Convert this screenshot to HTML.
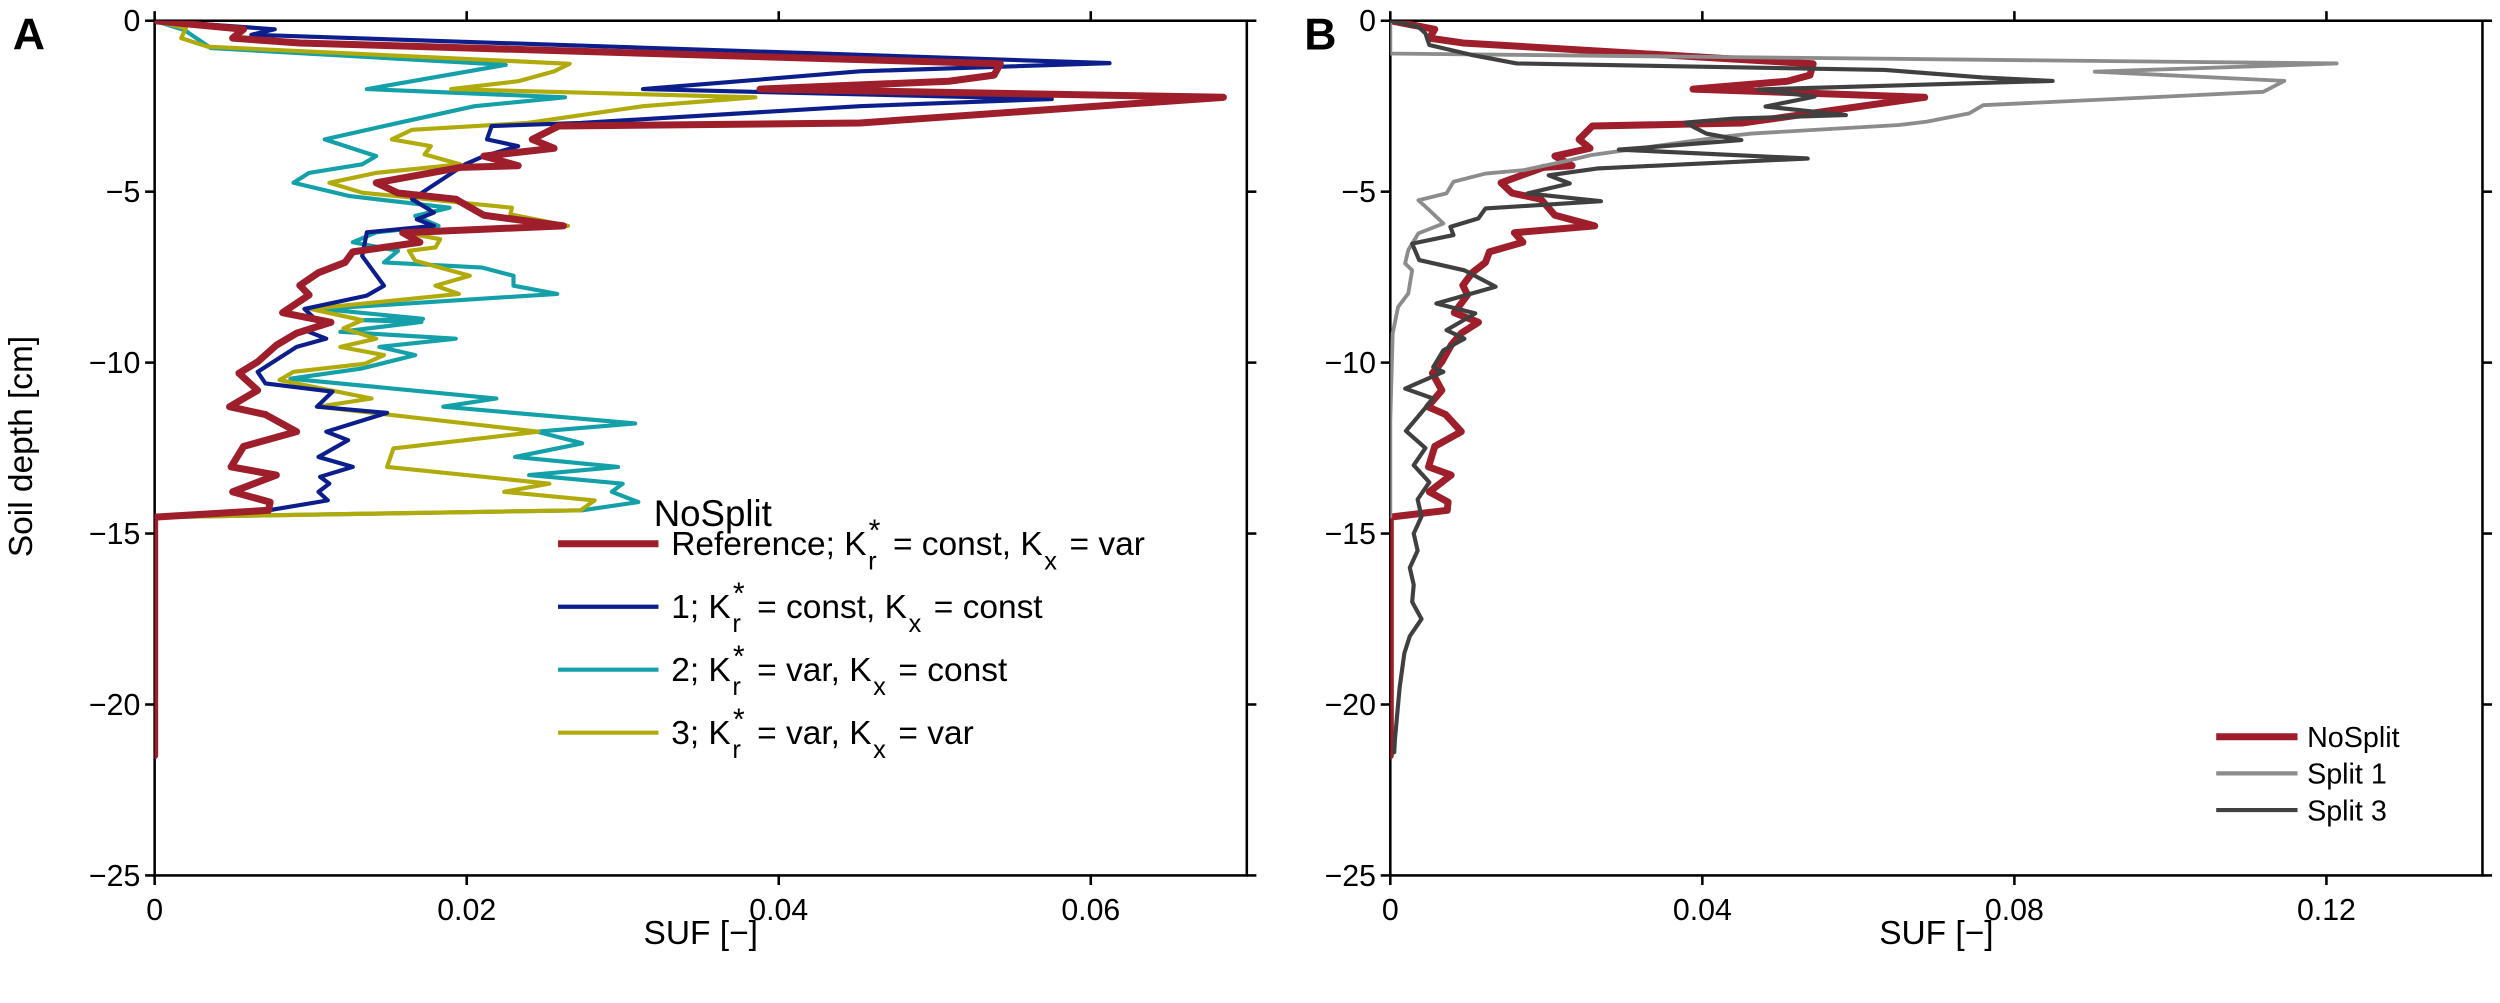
<!DOCTYPE html>
<html><head><meta charset="utf-8"><style>
html,body{margin:0;padding:0;background:#fff;}
svg{display:block;}
text{font-family:"Liberation Sans Narrow","Liberation Sans",sans-serif;fill:#000;}
</style></head><body>
<svg id="fig" xmlns="http://www.w3.org/2000/svg" width="2500" height="1003" viewBox="0 0 1568 629" preserveAspectRatio="none">
<rect width="1568" height="629" fill="#fff"/>
<g id="panelA"></g>
<g id="panelB"></g>
</svg>
<script>
// ---- data (depth in cm, SUF [-]) ----
const refDepth=[0,-0.25,-0.51,-0.65,-1.26,-1.59,-1.77,-2.0,-2.24,-2.99,-3.08,-3.47,-3.73,-3.96,-4.24,-4.29,-4.74,-5.04,-5.22,-5.69,-6.0,-6.2,-6.48,-6.76,-7.07,-7.37,-7.74,-8.02,-8.54,-8.82,-9.14,-9.49,-9.98,-10.31,-10.81,-11.29,-11.52,-12.02,-12.45,-13.05,-13.29,-13.78,-14.08,-14.32,-14.52,-21.5];
const refSUF=[0,0.0057,0.0050,0.0093,0.0542,0.0538,0.0509,0.0388,0.0685,0.0452,0.0259,0.0242,0.0256,0.0211,0.0233,0.0196,0.0142,0.0156,0.0193,0.0211,0.0262,0.0159,0.0170,0.0127,0.0122,0.0105,0.0093,0.0099,0.0082,0.0113,0.0091,0.0078,0.0066,0.0054,0.0066,0.0048,0.0071,0.0091,0.0057,0.0049,0.0078,0.0050,0.0074,0.0073,0,0];
const c1Depth=[0,-0.25,-0.41,-1.24,-1.48,-2.0,-2.29,-2.5,-2.99,-3.08,-3.47,-3.67,-3.96,-4.2,-5.22,-5.61,-5.81,-6.0,-6.19,-6.88,-7.75,-8.04,-8.43,-8.9,-9.05,-9.3,-9.54,-10.27,-10.61,-10.85,-11.29,-11.47,-12.02,-12.27,-12.76,-13.05,-13.34,-13.54,-13.78,-14.03,-14.32,-14.52];
const c1SUF=[0,0.0077,0.0062,0.0612,0.0452,0.0313,0.0575,0.0452,0.0273,0.0216,0.0213,0.0233,0.0211,0.0199,0.0165,0.0179,0.0168,0.0179,0.0136,0.0133,0.0147,0.0136,0.0096,0.0107,0.0096,0.0110,0.0091,0.0066,0.0071,0.0114,0.0104,0.0149,0.0110,0.0124,0.0105,0.0127,0.0106,0.0112,0.0105,0.0111,0.0073,0];
const c2Depth=[0,-0.27,-0.8,-1.29,-2.0,-2.24,-2.5,-2.99,-3.47,-3.96,-4.2,-4.45,-4.74,-5.13,-5.47,-5.71,-6.0,-6.19,-6.48,-6.73,-7.07,-7.22,-7.46,-7.75,-7.99,-8.43,-8.72,-8.76,-8.81,-9.1,-9.3,-9.54,-9.78,-10.17,-10.47,-11.05,-11.29,-11.78,-12.02,-12.36,-12.76,-13.05,-13.29,-13.54,-13.78,-14.08,-14.32,-14.52];
const c2SUF=[0,0.0019,0.0036,0.0225,0.0136,0.0263,0.0205,0.0156,0.0109,0.0142,0.0133,0.0099,0.0089,0.0125,0.0189,0.0167,0.0182,0.0142,0.0127,0.0156,0.0147,0.0210,0.0230,0.0230,0.0258,0.0107,0.0172,0.0133,0.0171,0.0119,0.0193,0.0144,0.0167,0.0133,0.0087,0.0219,0.0185,0.0308,0.0245,0.0274,0.0231,0.0297,0.0240,0.0300,0.0293,0.0310,0.0274,0];
const c3Depth=[0,-0.22,-0.51,-0.76,-1.26,-1.48,-1.77,-2.0,-2.24,-2.5,-2.99,-3.19,-3.47,-3.67,-3.91,-4.2,-4.45,-4.74,-5.03,-5.47,-5.66,-6.0,-6.19,-6.39,-6.63,-6.73,-7.02,-7.46,-7.75,-7.99,-8.43,-8.76,-9.0,-9.3,-9.54,-9.78,-10.03,-10.27,-10.51,-11.05,-11.29,-12.02,-12.51,-13.05,-13.54,-13.78,-14.03,-14.32,-14.52];
const c3SUF=[0,0.0020,0.0017,0.0034,0.0266,0.0256,0.0233,0.0190,0.0385,0.0313,0.0239,0.0165,0.0152,0.0177,0.0173,0.0196,0.0142,0.0112,0.0133,0.0229,0.0228,0.0265,0.0159,0.0183,0.0180,0.0163,0.0167,0.0202,0.0180,0.0195,0.0100,0.0133,0.0121,0.0142,0.0119,0.0147,0.0135,0.0089,0.0080,0.0139,0.0105,0.0246,0.0153,0.0149,0.0253,0.0224,0.0282,0.0273,0];
const s1Depth=[0,-0.96,-1.25,-1.49,-1.76,-2.08,-2.22,-2.47,-2.71,-2.95,-3.05,-3.3,-3.39,-3.93,-4.08,-4.37,-4.47,-4.71,-5.05,-5.25,-5.54,-5.93,-6.22,-6.71,-7.1,-7.3,-7.98,-8.37,-9.15,-11.7,-14.5];
const s1SUF=[0,0,0.1213,0.0903,0.1146,0.1119,0.0993,0.0760,0.0742,0.0688,0.0652,0.0463,0.0427,0.0257,0.0230,0.0171,0.0122,0.0081,0.0072,0.0036,0.0050,0.0068,0.0036,0.0023,0.0019,0.0028,0.0023,0.0010,0.0003,0,0];
const s3Depth=[0,-0.18,-0.37,-0.71,-1.0,-1.25,-1.44,-1.66,-1.76,-2.01,-2.22,-2.51,-2.76,-2.86,-2.98,-3.3,-3.49,-3.77,-4.03,-4.32,-4.52,-4.76,-5.05,-5.28,-5.49,-5.78,-6.03,-6.27,-6.52,-7.0,-7.3,-7.78,-8.27,-8.56,-9.05,-9.3,-9.64,-10.13,-10.27,-10.76,-11.05,-11.54,-12.0,-12.5,-13,-13.5,-14,-14.5,-15,-15.5,-16,-16.5,-17,-17.5,-18,-18.5,-19,-19.5,-20,-20.5,-21,-21.4];
const s3SUF=[0,0.0036,0.0045,0.0050,0.0104,0.0162,0.0634,0.0759,0.0849,0.0472,0.0544,0.0481,0.0584,0.0441,0.0378,0.0405,0.0450,0.0293,0.0535,0.0266,0.0203,0.0230,0.0176,0.0270,0.0122,0.0113,0.0077,0.0081,0.0028,0.0037,0.0095,0.0135,0.0059,0.0109,0.0072,0.0095,0.0068,0.0055,0.0068,0.0019,0.0055,0.0037,0.0020,0.0045,0.0030,0.0050,0.0035,0.0040,0.0030,0.0035,0.0025,0.0030,0.0028,0.0040,0.0025,0.0018,0.0015,0.0012,0.0010,0.0008,0.0006,0.0005];
const yTicks=[0,-5,-10,-15,-20,-25];
const yTickLabels=["0","\u22125","\u221210","\u221215","\u221220","\u221225"];
const xTicksA=[0,0.02,0.04,0.06];
const xTickLabelsA=["0","0.02","0.04","0.06"];
const xTicksB=[0,0.04,0.08,0.12];
const xTickLabelsB=["0","0.04","0.08","0.12"];

const NS="http://www.w3.org/2000/svg";
function mk(tag,attrs,parent){const e=document.createElementNS(NS,tag);for(const k in attrs)e.setAttribute(k,attrs[k]);parent.appendChild(e);return e;}
const top0=13, bot=549;
function yS(d){return top0+(0-d)/25*(bot-top0);}

function axes(g,x0,x1,xmax,ticks,labels,panelLetter,lx){
  const xS=v=>x0+v/xmax*(x1-x0);
  const frame=mk('rect',{x:x0,y:top0,width:x1-x0,height:bot-top0,fill:'none',stroke:'#000','stroke-width':1.6},g);
  
  
  yTicks.forEach((t,i)=>{
    const y=yS(t);
    const l=mk('line',{x1:x0-6,x2:x0,y1:y,y2:y,stroke:'#000','stroke-width':1.6},g);
    
    
    const r=mk('line',{x1:x1,x2:x1+6,y1:y,y2:y,stroke:'#000','stroke-width':1.6},g);
    
    
    const tx=mk('text',{x:x0-9,y:y+6.5,'text-anchor':'end','font-size':19},g);
    tx.textContent=yTickLabels[i];
    
    
  });
  ticks.forEach((t,i)=>{
    const x=xS(t);
    const l=mk('line',{x1:x,x2:x,y1:bot,y2:bot+6,stroke:'#000','stroke-width':1.6},g);
    
    
    const u=mk('line',{x1:x,x2:x,y1:top0-6,y2:top0,stroke:'#000','stroke-width':1.6},g);
    
    
    const tx=mk('text',{x:x,y:bot+28,'text-anchor':'middle','font-size':19},g);
    tx.textContent=labels[i];
    
    
  });
  const xl=mk('text',{x:(x0+x1)/2,y:bot+43,'text-anchor':'middle','font-size':21},g);
  xl.textContent='SUF [\u2212]';
  
  
  const pl=mk('text',{x:lx,y:31,'font-size':28,'font-weight':'bold'},g);
  pl.textContent=panelLetter;
  pl.style.fontFamily='"Liberation Sans",sans-serif';
  
  
  return xS;
}
function series(g,xS,depths,vals,color,w,name){
  let d='';
  depths.forEach((dp,i)=>{d+=(i?'L':'M')+xS(vals[i]).toFixed(2)+','+yS(dp).toFixed(2);});
  const p=mk('path',{d:d,fill:'none',stroke:color,'stroke-width':w,'stroke-linejoin':'round','stroke-linecap':'round'},g);
  
  
}
const RED='#9e1f2b',BLUE='#0b1e8c',CYAN='#13a0a8',YEL='#b0aa0a',LG='#8c8c8c',DG='#404040';

// Panel A
const gA=document.getElementById('panelA');
const clipA=mk('clipPath',{id:'clipA'},gA);mk('rect',{x:97,y:top0,width:685,height:bot-top0},clipA);
const xA=axes(gA,97,782,0.07,xTicksA,xTickLabelsA,'A',8);
const yl=mk('text',{x:0,y:0,'text-anchor':'middle','font-size':21,transform:'translate(20,280) rotate(-90)'},gA);
yl.textContent='Soil depth [cm]';


const sA=mk('g',{'clip-path':'url(#clipA)'},gA);
series(sA,xA,c2Depth,c2SUF,CYAN,2.6,'line-case-2');
series(sA,xA,c3Depth,c3SUF,YEL,2.6,'line-case-3');
series(sA,xA,c1Depth,c1SUF,BLUE,2.6,'line-case-1');
series(sA,xA,refDepth,refSUF,RED,4.4,'line-reference');

// Legend A
const lgA=mk('g',{},gA);


const lt=mk('text',{x:410,y:330,'font-size':23},lgA);
lt.textContent='NoSplit';


const legA=[['Reference; K','= const, K','= var',RED,4.4],['1; K','= const, K','= const',BLUE,2.6],['2; K','= var, K','= const',CYAN,2.6],['3; K','= var, K','= var',YEL,2.6]];
legA.forEach((e,i)=>{
  const y=341+i*39.5;
  const ln=mk('line',{x1:350,x2:413,y1:y,y2:y,stroke:e[3],'stroke-width':e[4]},lgA);
  
  
  const t=mk('text',{x:421,y:y+7,'font-size':21},lgA);
  
  
  t.appendChild(document.createTextNode(e[0]));
  const sub=mk('tspan',{dx:1,dy:9,'font-size':16},t);sub.textContent='r';
  const sup=mk('tspan',{dx:-5,dy:-18,'font-size':19},t);sup.textContent='*';
  const m=mk('tspan',{dx:2,dy:9},t);m.textContent=' '+e[1];
  const sub2=mk('tspan',{dx:1,dy:9,'font-size':16},t);sub2.textContent='x';
  const rest=mk('tspan',{dx:2,dy:-9},t);rest.textContent=' '+e[2];
});

// Panel B
const gB=document.getElementById('panelB');
const clipB=mk('clipPath',{id:'clipB'},gB);mk('rect',{x:872,y:top0,width:685,height:bot-top0},clipB);
const xB=axes(gB,872,1557,0.14,xTicksB,xTickLabelsB,'B',818);
const sB=mk('g',{'clip-path':'url(#clipB)'},gB);
series(sB,xB,refDepth,refSUF,RED,4.4,'line-nosplit');
series(sB,xB,s1Depth,s1SUF,LG,2.4,'line-split-1');
series(sB,xB,s3Depth,s3SUF,DG,2.6,'line-split-3');
const lgB=mk('g',{},gB);


[['NoSplit',RED,4.4],['Split 1',LG,2.6],['Split 3',DG,2.6]].forEach((e,i)=>{
  const y=462+i*23;
  const ln=mk('line',{x1:1390,x2:1441,y1:y,y2:y,stroke:e[1],'stroke-width':e[2]},lgB);
  
  
  const t=mk('text',{x:1447,y:y+6.5,'font-size':18},lgB);
  t.textContent=e[0];
  
  
});
</script>
</body></html>
